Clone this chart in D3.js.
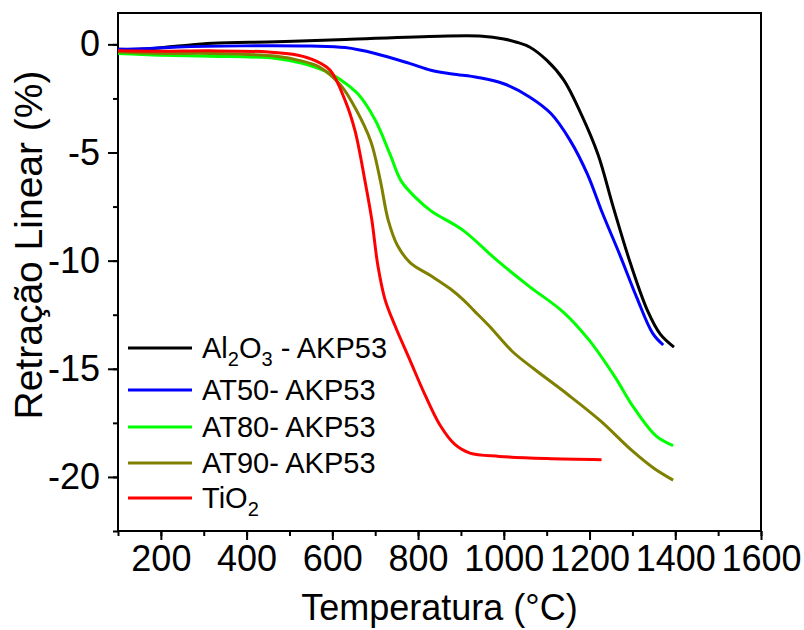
<!DOCTYPE html>
<html>
<head>
<meta charset="utf-8">
<script src="https://cdn.jsdelivr.net/npm/d3@7"></script>
<style>
  html, body { margin: 0; padding: 0; background: #fff; }
  svg { display: block; font-family: "Liberation Sans", Arial, sans-serif; }
</style>
</head>
<body>
<svg id="chart" width="804" height="630"></svg>
<script>
// ---- data ----
const al2o3X = [100, 160, 240, 320, 470, 630, 850, 950, 1000, 1030, 1060, 1100, 1140, 1180, 1220, 1255, 1295, 1335, 1365, 1397];
const al2o3Y = [-0.23, -0.22, -0.08, 0.05, 0.12, 0.23, 0.38, 0.38, 0.25, 0.1, -0.12, -0.73, -1.65, -3.2, -5.1, -7.5, -10.1, -12.3, -13.4, -14.0];

const at50X = [100, 160, 240, 390, 550, 630, 700, 780, 830, 880, 940, 1000, 1060, 1110, 1155, 1195, 1230, 1270, 1310, 1347, 1372];
const at50Y = [-0.23, -0.2, -0.12, -0.07, -0.08, -0.15, -0.42, -0.88, -1.2, -1.37, -1.53, -1.82, -2.43, -3.2, -4.45, -6.0, -7.8, -9.7, -11.7, -13.35, -13.9];

const at80X = [100, 200, 315, 470, 530, 590, 620, 660, 700, 735, 760, 795, 830, 905, 985, 1060, 1140, 1200, 1260, 1300, 1355, 1395];
const at80Y = [-0.42, -0.5, -0.55, -0.65, -0.88, -1.3, -1.65, -2.3, -3.5, -5.1, -6.3, -7.1, -7.7, -8.6, -10.0, -11.2, -12.4, -13.7, -15.4, -16.7, -18.1, -18.55];

const at90X = [100, 200, 315, 470, 525, 570, 620, 655, 690, 712, 730, 752, 782, 830, 875, 905, 930, 965, 1020, 1070, 1150, 1225, 1300, 1350, 1395];
const at90Y = [-0.35, -0.42, -0.42, -0.55, -0.75, -1.05, -1.9, -3.0, -4.5, -6.3, -8.1, -9.3, -10.1, -10.7, -11.3, -11.8, -12.3, -13.0, -14.2, -15.0, -16.2, -17.4, -18.8, -19.6, -20.15];

const tio2X = [100, 200, 315, 450, 520, 560, 595, 630, 653, 676, 692, 706, 723, 746, 781, 816, 851, 886, 921, 990, 1100, 1228];
const tio2Y = [-0.3, -0.32, -0.3, -0.35, -0.5, -0.75, -1.2, -2.6, -4.0, -6.3, -8.1, -10.2, -11.8, -13.0, -14.6, -16.2, -17.6, -18.5, -18.9, -19.05, -19.15, -19.2];

const seriesNames = ["Al2O3 - AKP53", "AT50- AKP53", "AT80- AKP53", "AT90- AKP53", "TiO2"];
const seriesColors = ["#000000", "#0000ff", "#00ff00", "#808000", "#ff0000"];
const xTickValues = [200, 400, 600, 800, 1000, 1200, 1400, 1600];
const yTickValues = [0, -5, -10, -15, -20];
const xLabel = "Temperatura (°C)";
const yLabel = "Retração Linear (%)";

// ---- layout ----
const svg = d3.select("#chart");
const pL = 118, pR = 761, pT = 13, pB = 531;
const x = d3.scaleLinear().domain([100, 1600]).range([pL, pR]);
const y = d3.scaleLinear().domain([-22.5, 1.45]).range([pB, pT]);

const seriesData = [
  [al2o3X, al2o3Y], [at50X, at50Y], [at80X, at80Y], [at90X, at90Y], [tio2X, tio2Y]
].map(([xs, ys]) => xs.map((v, i) => ({x: v, y: ys[i]})));

// frame
svg.append("rect")
  .attr("x", pL).attr("y", pT)
  .attr("width", pR - pL).attr("height", pB - pT)
  .attr("fill", "none").attr("stroke", "#000").attr("stroke-width", 2);

// lines
const line = d3.line().x(d => x(d.x)).y(d => y(d.y)).curve(d3.curveCatmullRom.alpha(0.5));
svg.append("g").selectAll("path")
  .data(seriesData)
  .join("path")
  .attr("d", line)
  .attr("fill", "none")
  .attr("stroke", (d, i) => seriesColors[i])
  .attr("stroke-width", 3)
  .attr("stroke-linejoin", "round");

// axes
const fontSize = 36;
const fmt = d => String(d);
function styleAxis(g) {
  g.select(".domain").remove();
  g.selectAll(".tick line").attr("stroke", "#000").attr("stroke-width", 2);
  g.selectAll(".tick text").attr("fill", "#000")
    .style("font-size", fontSize + "px")
    .style("font-family", '"Liberation Sans", Arial, sans-serif');
}
svg.append("g").attr("transform", `translate(0,${pB})`)
  .call(d3.axisBottom(x).tickValues(d3.range(100, 1601, 100)).tickSize(5).tickFormat(""))
  .call(styleAxis);
svg.append("g").attr("transform", `translate(0,${pB})`)
  .call(d3.axisBottom(x).tickValues(xTickValues).tickSize(9).tickPadding(5).tickFormat(fmt))
  .call(styleAxis);
svg.append("g").attr("transform", `translate(${pL},0)`)
  .call(d3.axisLeft(y).tickValues(d3.range(-22.5, 1.5, 2.5)).tickSize(5).tickFormat(""))
  .call(styleAxis);
svg.append("g").attr("transform", `translate(${pL},0)`)
  .call(d3.axisLeft(y).tickValues(yTickValues).tickSize(10).tickPadding(8).tickFormat(fmt))
  .call(styleAxis);

// axis titles
svg.append("text")
  .attr("x", (pL + pR) / 2).attr("y", 620)
  .attr("text-anchor", "middle")
  .style("font-size", "36px")
  .text(xLabel);
svg.append("text")
  .attr("transform", `translate(42,245) rotate(-90)`)
  .attr("text-anchor", "middle")
  .style("font-size", "39px")
  .text(yLabel);

// legend
const legendRows = [348, 390, 427, 463, 498];
const legend = svg.append("g");
seriesNames.forEach((name, i) => {
  const ry = legendRows[i];
  legend.append("line")
    .attr("x1", 128).attr("x2", 192)
    .attr("y1", ry).attr("y2", ry)
    .attr("stroke", seriesColors[i]).attr("stroke-width", 3);
  const t = legend.append("text")
    .attr("x", 202).attr("y", ry + 10)
    .style("font-size", "29px");
  const m = name.match(/^(Al)(2)(O)(3)(.*)$/) || name.match(/^(TiO)(2)$/);
  if (m) {
    const segs = m.slice(1);
    let prevSub = false;
    segs.forEach((s, k) => {
      const isSub = /^\d$/.test(s) && k % 2 === 1;
      const ts = t.append("tspan").text(s);
      if (isSub) ts.style("font-size", "20px").attr("dy", 8);
      else if (prevSub) ts.attr("dy", -8);
      prevSub = isSub;
    });
  } else {
    t.text(name);
  }
});
</script>
</body>
</html>
